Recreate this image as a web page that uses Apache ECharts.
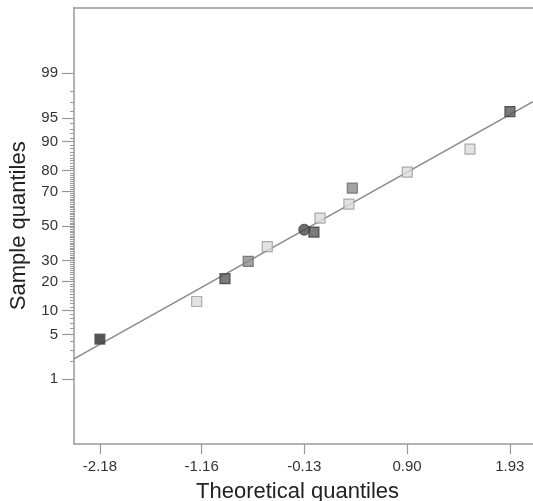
<!DOCTYPE html>
<html lang="en">
<head>
    <meta charset="UTF-8">
    <title>Normal probability plot</title>
    <script src="https://cdn.jsdelivr.net/npm/echarts@6/dist/echarts.min.js"></script>
    <style>
        html, body { margin: 0; padding: 0; background: #fff; }
        #chart { width: 533px; height: 501px; }
    </style>
</head>
<body>
<div id="chart"></div>
<script type="text/javascript">
    // theoretical quantiles (x) and sample quantiles in percent (y)
    const xTicks = [-2.18, -1.16, -0.13, 0.90, 1.93];
    const yTickPct = [1, 5, 10, 20, 30, 50, 70, 80, 90, 95, 99];

    const darkX = [-2.18];
    const darkY = [4.3];
    const darkGrayX = [-0.926, -0.034, 1.932];
    const darkGrayY = [21.2, 46.4, 95.9];
    const midGrayX = [-0.693, 0.351];
    const midGrayY = [29.6, 71.8];
    const lightX = [-1.21, -0.502, 0.027, 0.317, 0.902, 1.531];
    const lightY = [12.6, 37.8, 54.8, 63.1, 79.4, 87.9];
    const circleX = [-0.131];
    const circleY = [47.8];

    const fitLineX = [-2.44, 2.163];
    const fitLineY = [2.18, 97.07];

    // inverse normal cdf (Acklam), p in (0,1)
    function norminv(p) {
        const a = [-39.69683028665376, 220.9460984245205, -275.9285104469687, 138.3577518672690, -30.66479806614716, 2.506628277459239];
        const b = [-54.47609879822406, 161.5858368580409, -155.6989798598866, 66.80131188771972, -13.28068155288572];
        const c = [-0.007784894002430293, -0.3223964580411365, -2.400758277161838, -2.549732539343734, 4.374664141464968, 2.938163982698783];
        const d = [0.007784695709041462, 0.3224671290700398, 2.445134137142996, 3.754408661907416];
        const plow = 0.02425, phigh = 1 - plow;
        let q, r;
        if (p < plow) {
            q = Math.sqrt(-2 * Math.log(p));
            return (((((c[0] * q + c[1]) * q + c[2]) * q + c[3]) * q + c[4]) * q + c[5]) /
                ((((d[0] * q + d[1]) * q + d[2]) * q + d[3]) * q + 1);
        }
        if (p > phigh) {
            q = Math.sqrt(-2 * Math.log(1 - p));
            return -(((((c[0] * q + c[1]) * q + c[2]) * q + c[3]) * q + c[4]) * q + c[5]) /
                ((((d[0] * q + d[1]) * q + d[2]) * q + d[3]) * q + 1);
        }
        q = p - 0.5;
        r = q * q;
        return (((((a[0] * r + a[1]) * r + a[2]) * r + a[3]) * r + a[4]) * r + a[5]) * q /
            (((((b[0] * r + b[1]) * r + b[2]) * r + b[3]) * r + b[4]) * r + 1);
    }

    const z = (pct) => norminv(pct / 100);
    const pairs = (xs, ys) => xs.map((x, i) => [x, z(ys[i])]);

    const majorZ = yTickPct.map(z);
    const minorZ = [];
    for (let p = 2; p <= 98; p++) {
        if (yTickPct.indexOf(p) < 0) minorZ.push(z(p));
    }

    const yMin = -3.31, yMax = 3.32;
    const xMin = -2.44, xMax = 2.163;
    const frameColor = '#999';
    const textColor = '#333';

    function squareSeries(xs, ys, fill, border) {
        return {
            type: 'scatter',
            symbol: 'rect',
            symbolSize: 10,
            itemStyle: {color: fill, borderColor: border, borderWidth: 1.2},
            data: pairs(xs, ys),
            z: 3
        };
    }

    const chart = echarts.init(document.getElementById('chart'));
    chart.setOption({
        animation: false,
        backgroundColor: '#fff',
        grid: {left: 74, top: 7.5, right: 0, bottom: 57, containLabel: false, outerBoundsMode: 'none'},
        xAxis: [{
            type: 'value',
            min: xMin,
            max: xMax,
            name: 'Theoretical quantiles',
            nameLocation: 'middle',
            nameGap: 37,
            nameTextStyle: {fontFamily: 'Liberation Sans', fontSize: 22, color: '#222', padding: [0, 12, 0, 0]},
            axisLine: {onZero: false, lineStyle: {color: frameColor, width: 1.5}},
            axisTick: {show: true, length: 10, lineStyle: {color: frameColor, width: 1.2}, customValues: xTicks},
            axisLabel: {
                fontFamily: 'Liberation Sans', fontSize: 15, color: textColor, margin: 15,
                customValues: xTicks,
                formatter: (v) => v.toFixed(2)
            },
            splitLine: {show: false}
        }, {
            type: 'value',
            position: 'top',
            min: xMin,
            max: xMax,
            axisLine: {show: true, onZero: false, lineStyle: {color: frameColor, width: 1.5}},
            axisTick: {show: false},
            axisLabel: {show: false},
            splitLine: {show: false}
        }],
        yAxis: [{
            type: 'value',
            position: 'left',
            min: yMin,
            max: yMax,
            name: 'Sample quantiles',
            nameLocation: 'middle',
            nameGap: 44,
            nameTextStyle: {fontFamily: 'Liberation Sans', fontSize: 22, color: '#222'},
            axisLine: {show: true, onZero: false, lineStyle: {color: frameColor, width: 1.5}},
            axisTick: {show: true, length: 12, lineStyle: {color: frameColor, width: 1.2}, customValues: majorZ},
            axisLabel: {
                fontFamily: 'Liberation Sans', fontSize: 15, color: textColor, margin: 16,
                customValues: majorZ,
                formatter: (v) => {
                    let best = 0;
                    majorZ.forEach((m, i) => {
                        if (Math.abs(m - v) < Math.abs(majorZ[best] - v)) best = i;
                    });
                    return String(yTickPct[best]);
                }
            },
            splitLine: {show: false}
        }, {
            type: 'value',
            position: 'left',
            offset: 0,
            min: yMin,
            max: yMax,
            axisLine: {show: false, onZero: false},
            axisTick: {show: true, length: 4, lineStyle: {color: '#999', width: 1}, customValues: minorZ},
            axisLabel: {show: false},
            splitLine: {show: false}
        }],
        series: [
            {
                type: 'line',
                data: pairs(fitLineX, fitLineY),
                symbol: 'none',
                lineStyle: {color: '#8a8a8a', width: 1.5},
                clip: true,
                z: 2
            },
            squareSeries(lightX, lightY, '#dcdcdc', '#9a9a9a'),
            squareSeries(midGrayX, midGrayY, '#8c8c8c', '#666'),
            squareSeries(darkGrayX, darkGrayY, '#5a5a5a', '#3a3a3a'),
            squareSeries(darkX, darkY, '#2a2a2a', '#555'),
            {
                type: 'scatter',
                symbol: 'circle',
                symbolSize: 11,
                itemStyle: {color: '#4a4a4a', borderColor: '#333', borderWidth: 1},
                data: pairs(circleX, circleY),
                z: 3
            }
        ]
    });
</script>
</body>
</html>
